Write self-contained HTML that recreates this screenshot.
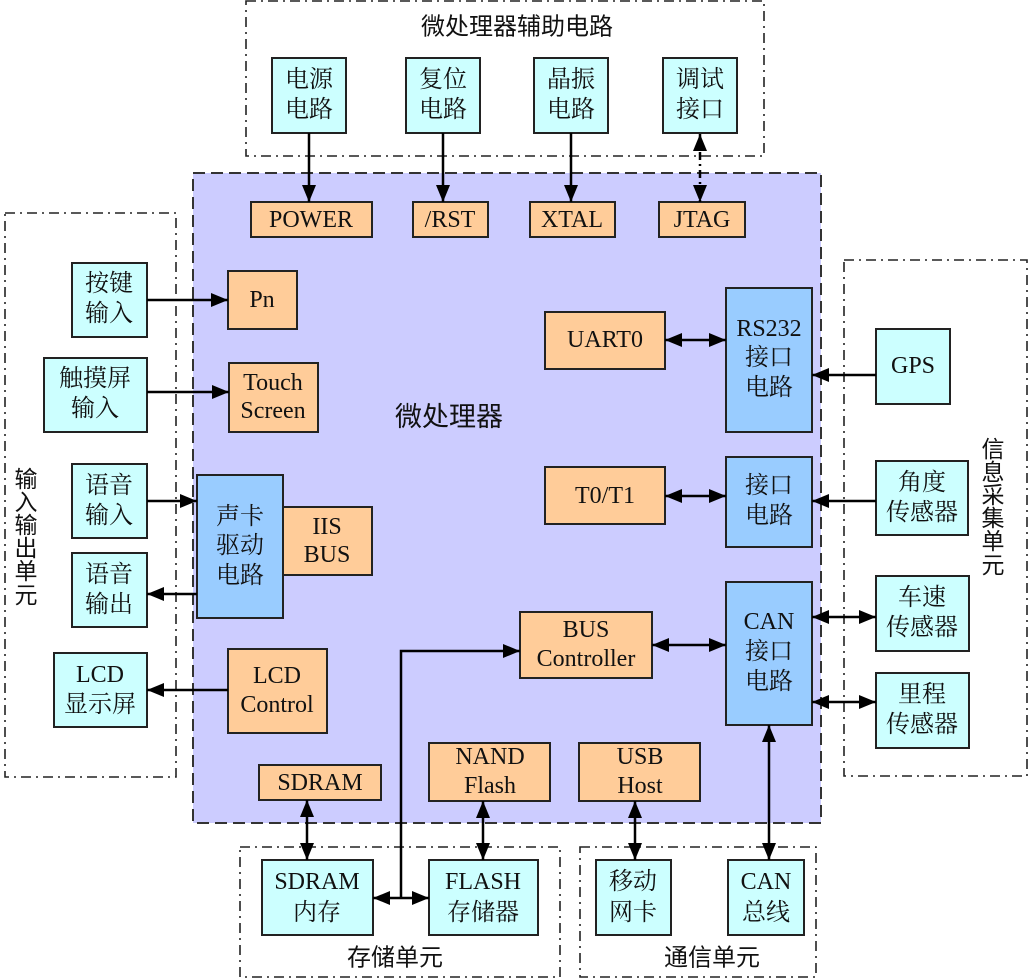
<!DOCTYPE html>
<html>
<head>
<meta charset="utf-8">
<style>
  html,body{margin:0;padding:0;background:#fff;}
  svg{display:block;}
  .bx{stroke:#222;stroke-width:2;}
  .cy{fill:#ccffff;}
  .or{fill:#ffcc99;}
  .bl{fill:#99ccff;}
  .t{font-family:"Liberation Serif","Noto Serif CJK SC",serif;font-size:24px;fill:#111;text-anchor:middle;dominant-baseline:central;}
  .s{font-family:"Liberation Sans","Noto Sans CJK SC",sans-serif;fill:#111;text-anchor:middle;dominant-baseline:central;}
  .grp{fill:none;stroke:#222;stroke-width:1.6;stroke-dasharray:10,5,2,5;}
  .ln{stroke:#000;stroke-width:2.5;fill:none;}
</style>
</head>
<body>
<svg width="1029" height="980" viewBox="0 0 1029 980" xmlns="http://www.w3.org/2000/svg">
  <defs>
    <marker id="ah" markerWidth="17" markerHeight="14" refX="17" refY="7" orient="auto-start-reverse" markerUnits="userSpaceOnUse">
      <path d="M0,0 L17,7 L0,14 z" fill="#000"/>
    </marker>
  </defs>

  <!-- group boxes -->
  <rect class="grp" x="246" y="1" width="518" height="155"/>
  <rect class="grp" x="5" y="213" width="171" height="564"/>
  <rect class="grp" x="844" y="260" width="183" height="516"/>
  <rect class="grp" x="240" y="847" width="320" height="130"/>
  <rect class="grp" x="580" y="847" width="236" height="130"/>

  <!-- main processor area -->
  <rect x="193" y="173" width="628" height="650" fill="#ccccff" stroke="#333" stroke-width="2" stroke-dasharray="12,6"/>

  <!-- titles -->
  <text class="s" x="517" y="27" font-size="24">微处理器辅助电路</text>
  <text class="s" x="449" y="417" font-size="27">微处理器</text>
  <text class="s" x="395" y="958" font-size="24">存储单元</text>
  <text class="s" x="712" y="958" font-size="24">通信单元</text>

  <!-- vertical labels -->
  <g class="s" font-size="23">
    <text x="26" y="479">输</text>
    <text x="26" y="502">入</text>
    <text x="26" y="525">输</text>
    <text x="26" y="548">出</text>
    <text x="26" y="571">单</text>
    <text x="26" y="595">元</text>
    <text x="993" y="449">信</text>
    <text x="993" y="472">息</text>
    <text x="993" y="495">采</text>
    <text x="993" y="518">集</text>
    <text x="993" y="541">单</text>
    <text x="993" y="565">元</text>
  </g>

  <!-- top aux circuit boxes -->
  <rect class="bx cy" x="272" y="58" width="74" height="75"/>
  <text class="t" x="309" y="80">电源</text><text class="t" x="309" y="110">电路</text>
  <rect class="bx cy" x="406" y="58" width="74" height="75"/>
  <text class="t" x="443" y="80">复位</text><text class="t" x="443" y="110">电路</text>
  <rect class="bx cy" x="534" y="58" width="74" height="75"/>
  <text class="t" x="571" y="80">晶振</text><text class="t" x="571" y="110">电路</text>
  <rect class="bx cy" x="663" y="58" width="74" height="75"/>
  <text class="t" x="700" y="80">调试</text><text class="t" x="700" y="110">接口</text>

  <!-- top orange -->
  <rect class="bx or" x="251" y="202" width="121" height="35"/>
  <text class="t" x="311" y="220">POWER</text>
  <rect class="bx or" x="413" y="202" width="75" height="35"/>
  <text class="t" x="450" y="220">/RST</text>
  <rect class="bx or" x="530" y="202" width="85" height="35"/>
  <text class="t" x="572" y="220">XTAL</text>
  <rect class="bx or" x="659" y="202" width="86" height="35"/>
  <text class="t" x="702" y="220">JTAG</text>

  <!-- top arrows -->
  <line class="ln" x1="309" y1="133" x2="309" y2="202" marker-end="url(#ah)"/>
  <line class="ln" x1="443" y1="133" x2="443" y2="202" marker-end="url(#ah)"/>
  <line class="ln" x1="571" y1="133" x2="571" y2="202" marker-end="url(#ah)"/>
  <line class="ln" x1="700" y1="134" x2="700" y2="202" stroke-dasharray="8,4,2,4" marker-start="url(#ah)" marker-end="url(#ah)"/>

  <!-- left IO -->
  <rect class="bx cy" x="72" y="263" width="75" height="74"/>
  <text class="t" x="109" y="284">按键</text><text class="t" x="109" y="314">输入</text>
  <rect class="bx or" x="228" y="271" width="69" height="58"/>
  <text class="t" x="262" y="300">Pn</text>
  <line class="ln" x1="147" y1="300" x2="228" y2="300" marker-end="url(#ah)"/>

  <rect class="bx cy" x="44" y="358" width="103" height="74"/>
  <text class="t" x="95" y="379">触摸屏</text><text class="t" x="95" y="409">输入</text>
  <rect class="bx or" x="229" y="363" width="89" height="69"/>
  <text class="t" x="273" y="383">Touch</text><text class="t" x="273" y="411">Screen</text>
  <line class="ln" x1="147" y1="392" x2="229" y2="392" marker-end="url(#ah)"/>

  <rect class="bx cy" x="72" y="464" width="75" height="74"/>
  <text class="t" x="109" y="486">语音</text><text class="t" x="109" y="516">输入</text>
  <rect class="bx bl" x="197" y="475" width="86" height="143"/>
  <text class="t" x="240" y="517">声卡</text><text class="t" x="240" y="546">驱动</text><text class="t" x="240" y="576">电路</text>
  <rect class="bx or" x="283" y="507" width="89" height="68"/>
  <text class="t" x="327" y="527">IIS</text><text class="t" x="327" y="555">BUS</text>
  <line class="ln" x1="147" y1="501" x2="197" y2="501" marker-end="url(#ah)"/>

  <rect class="bx cy" x="72" y="553" width="75" height="74"/>
  <text class="t" x="109" y="575">语音</text><text class="t" x="109" y="605">输出</text>
  <line class="ln" x1="197" y1="594" x2="147" y2="594" marker-end="url(#ah)"/>

  <rect class="bx cy" x="54" y="653" width="93" height="74"/>
  <text class="t" x="100" y="675">LCD</text><text class="t" x="100" y="705">显示屏</text>
  <rect class="bx or" x="228" y="649" width="99" height="84"/>
  <text class="t" x="277" y="676">LCD</text><text class="t" x="277" y="705">Control</text>
  <line class="ln" x1="228" y1="690" x2="147" y2="690" marker-end="url(#ah)"/>

  <!-- right side -->
  <rect class="bx or" x="545" y="312" width="120" height="57"/>
  <text class="t" x="605" y="340">UART0</text>
  <rect class="bx bl" x="726" y="288" width="86" height="144"/>
  <text class="t" x="769" y="329">RS232</text><text class="t" x="769" y="358">接口</text><text class="t" x="769" y="388">电路</text>
  <line class="ln" x1="665" y1="340" x2="726" y2="340" marker-start="url(#ah)" marker-end="url(#ah)"/>
  <rect class="bx cy" x="876" y="329" width="74" height="75"/>
  <text class="t" x="913" y="366">GPS</text>
  <line class="ln" x1="876" y1="375" x2="812" y2="375" marker-end="url(#ah)"/>

  <rect class="bx or" x="545" y="467" width="120" height="57"/>
  <text class="t" x="605" y="496">T0/T1</text>
  <rect class="bx bl" x="726" y="457" width="86" height="90"/>
  <text class="t" x="769" y="486">接口</text><text class="t" x="769" y="516">电路</text>
  <line class="ln" x1="665" y1="496" x2="726" y2="496" marker-start="url(#ah)" marker-end="url(#ah)"/>
  <rect class="bx cy" x="876" y="461" width="92" height="74"/>
  <text class="t" x="922" y="483">角度</text><text class="t" x="922" y="513">传感器</text>
  <line class="ln" x1="876" y1="501" x2="812" y2="501" marker-end="url(#ah)"/>

  <rect class="bx or" x="520" y="612" width="132" height="66"/>
  <text class="t" x="586" y="630">BUS</text><text class="t" x="586" y="659">Controller</text>
  <rect class="bx bl" x="726" y="582" width="86" height="143"/>
  <text class="t" x="769" y="622">CAN</text><text class="t" x="769" y="652">接口</text><text class="t" x="769" y="682">电路</text>
  <line class="ln" x1="652" y1="645" x2="726" y2="645" marker-start="url(#ah)" marker-end="url(#ah)"/>

  <rect class="bx cy" x="876" y="576" width="93" height="75"/>
  <text class="t" x="922" y="598">车速</text><text class="t" x="922" y="628">传感器</text>
  <line class="ln" x1="812" y1="617" x2="876" y2="617" marker-start="url(#ah)" marker-end="url(#ah)"/>
  <rect class="bx cy" x="876" y="673" width="93" height="75"/>
  <text class="t" x="922" y="695">里程</text><text class="t" x="922" y="725">传感器</text>
  <line class="ln" x1="812" y1="702" x2="876" y2="702" marker-start="url(#ah)" marker-end="url(#ah)"/>

  <!-- bottom orange -->
  <rect class="bx or" x="259" y="765" width="122" height="35"/>
  <text class="t" x="320" y="783">SDRAM</text>
  <rect class="bx or" x="429" y="743" width="121" height="58"/>
  <text class="t" x="490" y="757">NAND</text><text class="t" x="490" y="786">Flash</text>
  <rect class="bx or" x="579" y="743" width="121" height="58"/>
  <text class="t" x="640" y="757">USB</text><text class="t" x="640" y="786">Host</text>

  <!-- bottom units -->
  <rect class="bx cy" x="262" y="860" width="111" height="75"/>
  <text class="t" x="317" y="882">SDRAM</text><text class="t" x="317" y="913">内存</text>
  <rect class="bx cy" x="429" y="860" width="109" height="75"/>
  <text class="t" x="483" y="882">FLASH</text><text class="t" x="483" y="913">存储器</text>
  <rect class="bx cy" x="596" y="860" width="75" height="75"/>
  <text class="t" x="633" y="882">移动</text><text class="t" x="633" y="913">网卡</text>
  <rect class="bx cy" x="728" y="860" width="76" height="75"/>
  <text class="t" x="766" y="882">CAN</text><text class="t" x="766" y="913">总线</text>

  <!-- bottom arrows -->
  <line class="ln" x1="307" y1="800" x2="307" y2="860" marker-start="url(#ah)" marker-end="url(#ah)"/>
  <line class="ln" x1="483" y1="801" x2="483" y2="860" marker-start="url(#ah)" marker-end="url(#ah)"/>
  <line class="ln" x1="635" y1="801" x2="635" y2="860" marker-start="url(#ah)" marker-end="url(#ah)"/>
  <line class="ln" x1="769" y1="725" x2="769" y2="860" marker-start="url(#ah)" marker-end="url(#ah)"/>

  <!-- memory bus -->
  <line class="ln" x1="373" y1="898" x2="429" y2="898" marker-start="url(#ah)" marker-end="url(#ah)"/>
  <polyline class="ln" points="401,898 401,651 520,651" marker-end="url(#ah)"/>
</svg>
</body>
</html>
